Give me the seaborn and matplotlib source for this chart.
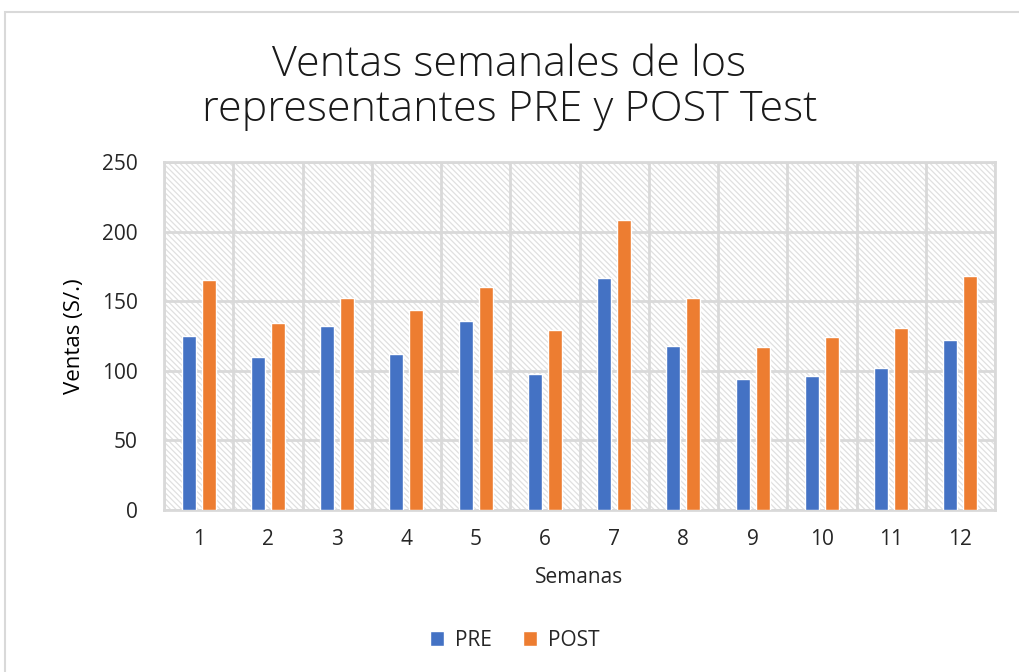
import matplotlib
matplotlib.use("Agg")
import matplotlib.pyplot as plt
import seaborn as sns
import pandas as pd
import numpy as np
from matplotlib.patches import Rectangle, Patch

semanas = [str(i) for i in range(1, 13)]
pre = [125, 110, 132, 112, 136, 98, 167, 118, 94, 96, 102, 122]
post = [165, 134, 152, 144, 160, 129, 208, 152, 117, 124, 131, 168]
series = ["PRE", "POST"]
colors = ["#4472C4", "#ED7D31"]

df = pd.DataFrame({
    "Semanas": semanas * 2,
    "Ventas": pre + post,
    "Serie": ["PRE"] * 12 + ["POST"] * 12,
})

sns.set_style("white")
plt.rcParams["font.family"] = ["Open Sans", "DejaVu Sans"]
plt.rcParams["hatch.color"] = "#E0E0E0"
plt.rcParams["hatch.linewidth"] = 0.9

fig = plt.figure(figsize=(10.19, 6.72), dpi=100)
ax = fig.add_axes([164/1019, (672-510)/672, (995-164)/1019, (510-162)/672])

# chart border
fig.patches.append(Rectangle((5/1019, -0.01), 1.1, (672-12)/672 + 0.01,
                             transform=fig.transFigure, fill=False,
                             edgecolor="#D9D9D9", lw=1.5, zorder=0))

# hatched background
ax.add_patch(Rectangle((0, 0), 1, 1, transform=ax.transAxes, facecolor="white",
                       edgecolor="#E0E0E0", hatch="\\" * 6, lw=0, zorder=0))

sns.barplot(data=df, x="Semanas", y="Ventas", hue="Serie", hue_order=series,
            palette=colors, width=0.58, gap=0.3, ax=ax, legend=False,
            saturation=1, zorder=3)

ax.set_ylim(0, 250)
ax.set_xlim(-0.5, 11.5)
ax.set_yticks(np.arange(0, 251, 50))
ax.set_xticks(np.arange(-0.5, 12, 1), minor=True)
ax.grid(False)
ax.yaxis.grid(True, color="#D9D9D9", lw=2, zorder=1)
ax.xaxis.grid(True, which="minor", color="#D9D9D9", lw=2, zorder=1)
ax.set_axisbelow(True)
for s in ax.spines.values():
    s.set_color("#D9D9D9")
    s.set_linewidth(2)
ax.tick_params(axis="both", which="both", length=0, labelsize=15, colors="#262626")
ax.tick_params(axis="y", pad=19)
ax.tick_params(axis="x", pad=14)

ax.set_xlabel("Semanas", fontsize=15, color="#262626", labelpad=12)
ax.set_ylabel("Ventas (S/.)", fontsize=16, color="#000000", labelpad=12)

fig.text(0.5, 0.87, "Ventas semanales de los\nrepresentantes PRE y POST Test",
         ha="center", va="center", fontsize=31, color="#1a1a1a",
         fontweight="light", linespacing=1.1)

handles = [Patch(facecolor=c, label=l) for c, l in zip(colors, series)]
fig.legend(handles=handles, loc="center", bbox_to_anchor=(0.505, (672-640)/672),
           ncol=2, frameon=False, fontsize=15, handlelength=0.7, handleheight=0.7,
           columnspacing=1.5, handletextpad=0.5)

fig.savefig("out.png", dpi=100)
